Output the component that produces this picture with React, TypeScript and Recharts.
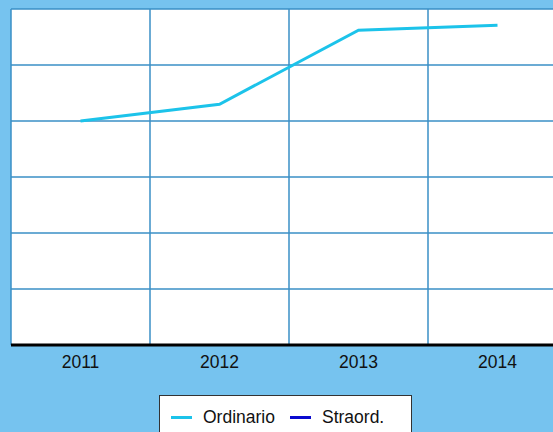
import { CartesianGrid, Line, LineChart, XAxis, YAxis } from "recharts";

const years = ["2011", "2012", "2013", "2014"];
const ordinario = [4.0, 4.3, 5.62, 5.71];
const straord: (number | null)[] = [null, null, null, null];
const yTicks = [0, 1, 2, 3, 4, 5, 6];

const data = years.map((y, i) => ({
  year: y,
  ordinario: ordinario[i],
  straord: straord[i],
}));

const BG = "#76C3EF";
const FONT = "'Liberation Sans', Arial, sans-serif";

function LegendBox() {
  const items = [
    { label: "Ordinario", color: "#1CC3EA" },
    { label: "Straord.", color: "#0A0ACF" },
  ];
  return (
    <div
      style={{
        position: "absolute",
        left: 159,
        top: 395,
        width: 253,
        height: 50,
        background: "#fff",
        border: "1px solid #333",
        boxSizing: "border-box",
        display: "flex",
        alignItems: "flex-start",
        paddingTop: 11,
        paddingLeft: 11,
        fontFamily: FONT,
        fontSize: 17.5,
        color: "#111",
      }}
    >
      {items.map((it) => (
        <span key={it.label} style={{ display: "flex", alignItems: "center", marginRight: 15 }}>
          <span
            style={{
              display: "inline-block",
              width: 21,
              height: 3,
              background: it.color,
              marginRight: 11,
            }}
          />
          {it.label}
        </span>
      ))}
    </div>
  );
}

export default function App() {
  return (
    <div
      style={{
        position: "absolute",
        left: 0,
        top: 0,
        width: 553,
        height: 432,
        overflow: "hidden",
        background: BG,
      }}
    >
      <LineChart
        width={580}
        height={432}
        data={data}
        margin={{ top: 9, right: 13, left: 11, bottom: 0 }}
      >
        <CartesianGrid
          fill="#fff"
          stroke="#3A8FC6"
          strokeWidth={1.5}
          verticalCoordinatesGenerator={({ offset }: any) =>
            [0, 1, 2, 3, 4].map((i) => offset.left + (i * offset.width) / 4)
          }
        />
        <XAxis
          dataKey="year"
          scale="band"
          axisLine={{ stroke: "#000", strokeWidth: 3 }}
          tickLine={false}
          tick={{ fill: "#111", fontSize: 17.5, fontFamily: FONT }}
          tickMargin={5}
          height={87}
        />
        <YAxis hide domain={[0, 6]} ticks={yTicks} />
        <Line
          dataKey="ordinario"
          name="Ordinario"
          stroke="#1CC3EA"
          strokeWidth={3}
          dot={false}
          type="linear"
          isAnimationActive={false}
        />
        <Line
          dataKey="straord"
          name="Straord."
          stroke="#0A0ACF"
          strokeWidth={3}
          dot={false}
          type="linear"
          isAnimationActive={false}
        />
      </LineChart>
      <LegendBox />
    </div>
  );
}
